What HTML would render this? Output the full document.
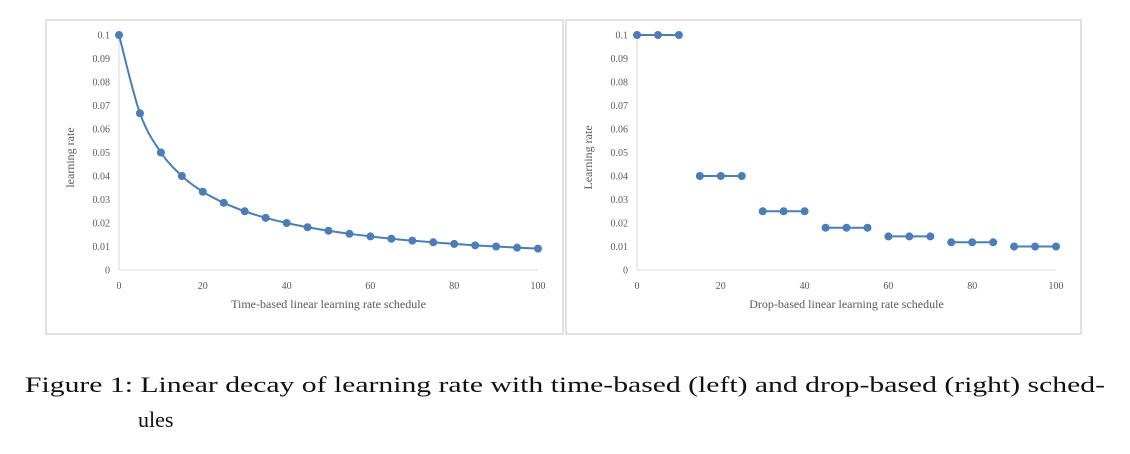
<!DOCTYPE html>
<html><head><meta charset="utf-8"><style>
body{margin:0;background:#fff;width:1130px;height:449px;overflow:hidden}
svg text{font-family:"Liberation Serif",serif}
</style></head><body>
<svg id="s" width="1130" height="449">
<rect x="46" y="20" width="517" height="314" fill="#fff" stroke="#d9d9d9" stroke-width="1.5"/>
<rect x="566" y="20" width="515" height="314" fill="#fff" stroke="#d9d9d9" stroke-width="1.5"/>
<text x="25" y="392" font-size="22" fill="#111" textLength="1080" lengthAdjust="spacingAndGlyphs">Figure 1:  Linear decay of learning rate with time-based (left) and drop-based (right) sched-</text>
<text x="138" y="427" font-size="22" fill="#111">ules</text>
</svg>
<script>
const xs=[0,5,10,15,20,25,30,35,40,45,50,55,60,65,70,75,80,85,90,95,100];
const timeVals=[0.1,0.0667,0.05,0.04,0.0333,0.0286,0.025,0.0222,0.02,0.0182,0.0167,0.0154,0.0143,0.0133,0.0125,0.0118,0.0111,0.0105,0.01,0.0095,0.0091];
const dropVals=[0.1,0.1,0.1,0.04,0.04,0.04,0.025,0.025,0.025,0.018,0.018,0.018,0.0143,0.0143,0.0143,0.0118,0.0118,0.0118,0.01,0.01,0.01];
const yTicks=[0,0.01,0.02,0.03,0.04,0.05,0.06,0.07,0.08,0.09,0.1];
const yTickLabels=["0","0.01","0.02","0.03","0.04","0.05","0.06","0.07","0.08","0.09","0.1"];
const xTicks=[0,20,40,60,80,100];
const s=document.getElementById('s');
const NS='http://www.w3.org/2000/svg';
function mk(t,a){const e=document.createElementNS(NS,t);for(const k in a)e.setAttribute(k,a[k]);s.appendChild(e);return e;}
const Y0=270,Y1=35;
function yS(v){return Y0-(v/0.1)*(Y0-Y1);}
function chart(x0,x1,vals,title,ytitle,prefix,smooth){
  const xS=v=>x0+(v/100)*(x1-x0);
  let ax=mk('line',{x1:x0,y1:Y0,x2:x1,y2:Y0,stroke:'#d9d9d9','stroke-width':1});
  
  
  let ay=mk('line',{x1:x0,y1:Y0,x2:x0,y2:Y1,stroke:'#d9d9d9','stroke-width':1});
  
  
  yTicks.forEach((v,i)=>{const t=mk('text',{x:x0-9,y:yS(v)+3.5,'font-size':10,fill:'#595959','text-anchor':'end'});t.textContent=yTickLabels[i];
    
    });
  xTicks.forEach(v=>{const t=mk('text',{x:xS(v),y:Y0+19,'font-size':10,fill:'#595959','text-anchor':'middle'});t.textContent=v;
    
    });
  const xt=mk('text',{x:(x0+x1)/2,y:308,'font-size':12,fill:'#595959','text-anchor':'middle'});xt.textContent=title;
  
  
  const yt=mk('text',{x:0,y:0,'font-size':12,fill:'#595959','text-anchor':'middle',transform:`translate(${x0-45},${(Y0+Y1)/2+5}) rotate(-90)`});yt.textContent=ytitle;
  
  
  const P=xs.map((x,i)=>[xS(x),yS(vals[i])]);
  if(smooth){
    let d=`M${P[0][0]},${P[0][1]}`;
    for(let i=0;i<P.length-1;i++){const p0=P[Math.max(0,i-1)],p1=P[i],p2=P[i+1],p3=P[Math.min(P.length-1,i+2)];
      d+=` C${p1[0]+(p2[0]-p0[0])/6},${p1[1]+(p2[1]-p0[1])/6} ${p2[0]-(p3[0]-p1[0])/6},${p2[1]-(p3[1]-p1[1])/6} ${p2[0]},${p2[1]}`;}
    const l=mk('path',{d:d,fill:'none',stroke:'#4a7ebb','stroke-width':2});
    
    
  } else {
    for(let i=0;i<P.length-1;i++){ if(vals[i]===vals[i+1]){
      const l=mk('line',{x1:P[i][0],y1:P[i][1],x2:P[i+1][0],y2:P[i+1][1],stroke:'#4a7ebb','stroke-width':2});
      
      }}
  }
  P.forEach(p=>{const c=mk('circle',{cx:p[0],cy:p[1],r:4,fill:'#4a7ebb'});
    
    });
}
chart(119,538,timeVals,'Time-based  linear learning rate schedule','learning rate','left',true);
chart(637,1056,dropVals,'Drop-based linear learning rate schedule','Learning rate','right',false);
</script>
</body></html>
